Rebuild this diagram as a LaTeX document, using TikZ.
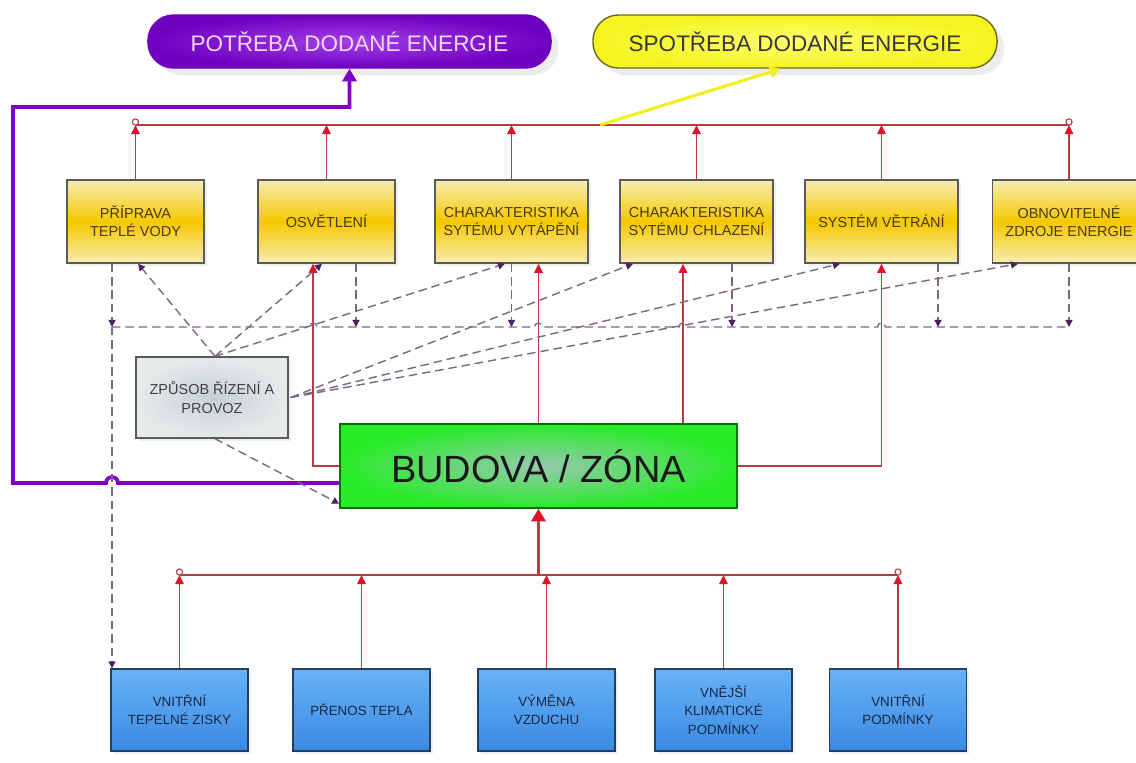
\documentclass[tikz,border=0pt]{standalone}
\usepackage{fontspec}
\setmainfont{Liberation Sans}
\usepackage{tikz}
\usetikzlibrary{arrows.meta}
\usetikzlibrary{calc}
\usetikzlibrary{shadows}
\definecolor{boxline}{HTML}{5A5A5A}
\definecolor{goldmid}{HTML}{F5C800}
\definecolor{goldpale}{HTML}{F8ECB4}
\definecolor{goldtext}{HTML}{4A3A06}
\definecolor{bluetop}{HTML}{68B2F6}
\definecolor{bluebot}{HTML}{3A8AE2}
\definecolor{blueline}{HTML}{22405E}
\definecolor{bluetext}{HTML}{1A2848}
\definecolor{greybox}{HTML}{E6EAEA}
\definecolor{greyblue}{HTML}{C6D0DA}
\definecolor{redline}{HTML}{B83C48}
\definecolor{redtip}{HTML}{DC1428}
\definecolor{dashline}{HTML}{7A6882}
\definecolor{dashtip}{HTML}{4A2260}
\definecolor{purpline}{HTML}{8000C8}
\definecolor{purpin}{HTML}{A040E8}
\definecolor{purpout}{HTML}{7000C0}
\definecolor{purptext}{HTML}{F6D6F6}
\definecolor{yellin}{HTML}{FFFF70}
\definecolor{yellout}{HTML}{F4F420}
\definecolor{yellarr}{HTML}{F0F020}
\definecolor{greenbox}{HTML}{28EC28}
\definecolor{greenmid}{HTML}{98C8B0}

\begin{document}
\begin{tikzpicture}[x=0.025cm,y=-0.025cm,
  topbox/.style={rectangle,draw=boxline,line width=1pt,top color=goldpale,
    bottom color=goldpale,middle color=goldmid,minimum height=2.075cm,
    align=center,text=goldtext,inner sep=1pt,font=\fontsize{10.3}{12.8}\selectfont,
    drop shadow={shadow xshift=2pt,shadow yshift=-2pt,opacity=0.12}},
  botbox/.style={rectangle,draw=blueline,line width=1pt,top color=bluetop,
    bottom color=bluebot,minimum width=3.425cm,minimum height=2.05cm,
    align=center,text=bluetext,inner sep=1pt,font=\fontsize{9.5}{13}\selectfont,
    drop shadow={shadow xshift=2pt,shadow yshift=-2pt,opacity=0.12}},
  oval/.style={rectangle,rounded corners=0.64cm,line width=1pt,
    minimum width=10.075cm,minimum height=1.325cm,font=\fontsize{16}{18}\selectfont,
    drop shadow={shadow xshift=5pt,shadow yshift=-5pt,opacity=0.15}},
  bus/.style={draw=redline,line width=1.2pt},
  redarr/.style={draw=redline,line width=1.2pt,-{Triangle[length=6.5pt,width=6pt,color=redtip]}},
  dashes/.style={draw=dashline,line width=1pt,dash pattern=on 6pt off 3.5pt},
  dasharr/.style={dashes,-{Triangle[length=5pt,width=5pt,color=dashtip]}}]

\useasboundingbox[fill=white] (0,0) rectangle (1136,762);

\node[oval,draw=purpout,shading=radial,inner color=purpin,outer color=purpout,
  text=purptext] (pot) at (349.5,41.5) {POTŘEBA DODANÉ ENERGIE};
\node[oval,draw=olive!70!black,shading=radial,inner color=yellin,outer color=yellout,
  text=black!78,minimum width=10.1cm] (spot) at (795,41.5) {SPOTŘEBA DODANÉ ENERGIE};

\foreach \n/\x/\w/\t in {t1/135.5/3.425/{PŘÍPRAVA\\TEPLÉ VODY},
    t2/326.5/3.425/{OSVĚTLENÍ},
    t3/511.5/3.825/{CHARAKTERISTIKA\\SYTÉMU VYTÁPĚNÍ},
    t4/696.5/3.825/{CHARAKTERISTIKA\\SYTÉMU CHLAZENÍ},
    t5/881.5/3.825/{SYSTÉM VĚTRÁNÍ},
    t6/1069/3.825/{OBNOVITELNÉ\\ZDROJE ENERGIE}}{
  \node[topbox,minimum width=\w cm] (\n) at (\x,221.5) {\t};
}

\node[rectangle,draw=boxline,line width=1pt,shading=radial,inner color=greyblue,
  outer color=greybox,minimum width=3.8cm,minimum height=2.025cm,align=center,
  text=black!75,font=\fontsize{10.3}{13}\selectfont,
  drop shadow={shadow xshift=2pt,shadow yshift=-2pt,opacity=0.12}]
  (ctrl) at (212,397.5) {ZPŮSOB ŘÍZENÍ A\\PROVOZ};

\node[rectangle,draw=green!45!black,line width=1pt,shading=radial,inner color=greenmid,
  outer color=greenbox,minimum width=9.925cm,minimum height=2.1cm,
  text=black!90,font=\fontsize{27}{30}\selectfont]
  (bud) at (538.5,466) {BUDOVA / ZÓNA};

\foreach \n/\x/\t in {b1/179.5/{VNITŘNÍ\\TEPELNÉ ZISKY},
    b2/361.5/{PŘENOS TEPLA},
    b3/546.5/{VÝMĚNA\\VZDUCHU},
    b4/723.5/{VNĚJŠÍ\\KLIMATICKÉ\\PODMÍNKY},
    b5/898/{VNITŘNÍ\\PODMÍNKY}}{
  \node[botbox] (\n) at (\x,710) {\t};
}

\coordinate (topbus) at (0,125);
\coordinate (botbus) at (0,575);
\coordinate (dashbus) at (0,327);
\coordinate (plev) at (0,107);
\coordinate (ytap) at (600,125);
\coordinate (c4) at ($(bud.north)+(144.5,0)$);

% horni sbernice
\draw[bus] (t1.north |- topbus) -- (t6.north |- topbus);
\foreach \i in {1,...,6}
  \draw[redarr] (t\i.north) -- (t\i.north |- topbus);
\foreach \n in {t1,t6}
  \draw[redline,fill=white,line width=0.8pt] ($(\n.north |- topbus)+(0,-3)$) circle (2.2pt);
\draw[yellarr,line width=2.2pt,-{Triangle[length=8pt,width=8pt]}]
  (ytap) -- ($(spot.south)+(-14,0)$);

% budova -> systemy
\draw[redarr] (bud.west) -| ($(t2.south)+(-13.5,0)$);
\draw[redarr] (bud.north) -- (bud.north |- t3.south);
\draw[redarr] (c4) -- (c4 |- t4.south);
\draw[redarr] (bud.east) -| (t5.south);

% dolni sbernice
\draw[bus] (b1.north |- botbus) -- (b5.north |- botbus);
\foreach \i in {1,...,5}
  \draw[redarr] (b\i.north) -- (b\i.north |- botbus);
\foreach \n in {b1,b5}
  \draw[redline,fill=white,line width=0.8pt] ($(\n.north |- botbus)+(0,-3)$) circle (2.2pt);
\draw[draw=redline,line width=2.6pt,-{Triangle[length=9pt,width=10pt,color=redtip]}]
  (bud.south |- botbus) -- (bud.south);

% potreba
\draw[purpline,line width=2.6pt,-{Triangle[length=9pt,width=10pt]}]
  ($(bud.west)+(0,17)$) -- (118,483) arc[start angle=0,end angle=180,radius=4.27pt]
  -- (13,483) |- (pot.south |- plev) -- (pot.south);

% ztraty systemu
\coordinate (d1) at ($(t1.south)+(-23.5,0)$);
\coordinate (d2) at ($(t2.south)+(29.5,0)$);
\coordinate (d3) at (t3.south);
\coordinate (d4) at ($(t4.south)+(35.5,0)$);
\coordinate (d5) at ($(t5.south)+(56.5,0)$);
\coordinate (d6) at (t6.south);
\draw[dashes] (d1 |- dashbus) -- (309,327) arc[start angle=180,end angle=0,radius=2.85pt]
  -- (534.5,327) arc[start angle=180,end angle=0,radius=2.85pt]
  -- (679,327) arc[start angle=180,end angle=0,radius=2.85pt]
  -- (877.5,327) arc[start angle=180,end angle=0,radius=2.85pt]
  -- (d6 |- dashbus);
\foreach \i in {1,...,6}
  \draw[dasharr] (d\i) -- (d\i |- dashbus);
\draw[dasharr] (d1 |- dashbus) -- (d1 |- b1.north);

% rizeni
\draw[dasharr] ($(ctrl.north)+(3,0)$) -- ($(t1.south)+(2.5,0)$);
\draw[dasharr] ($(ctrl.north)+(3,0)$) -- ($(t2.south)+(-4.5,0)$);
\draw[dasharr] ($(ctrl.north)+(3,0)$) -- ($(t3.south)+(-6.5,0)$);
\draw[dasharr] ($(ctrl.east)+(2,0)$) -- ($(t4.south)+(-63.5,0)$);
\draw[dasharr] ($(ctrl.east)+(2,0)$) -- ($(t5.south)+(-41.5,0)$);
\draw[dasharr] ($(ctrl.east)+(2,0)$) -- ($(t6.south)+(-51,0)$);
\draw[dasharr] ($(ctrl.south)+(3,0)$) -- ($(bud.south west)+(0,-5)$);

\end{tikzpicture}
\end{document}
